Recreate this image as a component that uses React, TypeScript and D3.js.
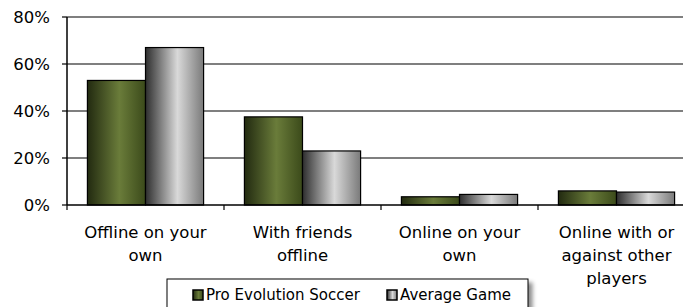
import React from 'react';
import * as d3 from 'd3';

const categories = ['Offline on your own', 'With friends offline', 'Online on your own', 'Online with or against other players'];
const categoryLines = [['Offline on your', 'own'], ['With friends', 'offline'], ['Online on your', 'own'], ['Online with or', 'against other', 'players']];
const proEvo = [53, 37.5, 3.5, 6];
const avgGame = [67, 23, 4.5, 5.5];
const seriesNames = ['Pro Evolution Soccer', 'Average Game'];
const yTicks = [0, 20, 40, 60, 80];

const W = 683;
const H = 307;
const left = 67;
const right = 695;
const top = 17;
const bottom = 205;
const font = 'Tahoma, Verdana, "DejaVu Sans", sans-serif';

const App: React.FC = () => {
  const x = d3.scaleBand<string>().domain(categories).range([left, right]);
  const y = d3.scaleLinear().domain([0, 80]).range([bottom, top]);
  const bw = x.bandwidth() * 0.37;

  return (
    <svg width={W} height={H} style={{ position: 'absolute', left: 0, top: 0 }}>
      <defs>
        <linearGradient id="gGreen" x1="0" x2="1" y1="0" y2="0">
          <stop offset="0" stopColor="#222a10" />
          <stop offset="0.55" stopColor="#6a7c3a" />
          <stop offset="1" stopColor="#3b4a1a" />
        </linearGradient>
        <linearGradient id="gGray" x1="0" x2="1" y1="0" y2="0">
          <stop offset="0" stopColor="#2e2e2e" />
          <stop offset="0.55" stopColor="#d9d9d9" />
          <stop offset="1" stopColor="#7a7a7a" />
        </linearGradient>
        <filter id="shadow" x="-5%" y="-20%" width="120%" height="160%">
          <feDropShadow dx="4" dy="4" stdDeviation="2" floodColor="#000" floodOpacity="0.45" />
        </filter>
      </defs>
      <rect width={W} height={H} fill="#fff" />

      {/* gridlines */}
      {yTicks.filter(t => t > 0).map(t => (
        <line key={t} x1={left} x2={W} y1={y(t)} y2={y(t)} stroke="#7f7f7f" strokeWidth={2} />
      ))}

      {/* bars */}
      {categories.map((c, i) => {
        const cx = (x(c) || 0) + x.bandwidth() / 2;
        return (
          <g key={c}>
            <rect x={cx - bw} y={y(proEvo[i])} width={bw} height={bottom - y(proEvo[i])}
              fill="url(#gGreen)" stroke="#000" strokeWidth={1.2} />
            <rect x={cx} y={y(avgGame[i])} width={bw} height={bottom - y(avgGame[i])}
              fill="url(#gGray)" stroke="#000" strokeWidth={1.2} />
          </g>
        );
      })}

      {/* axes */}
      <line x1={left} x2={left} y1={top} y2={bottom} stroke="#000" strokeWidth={1.5} />
      <line x1={left} x2={W} y1={bottom} y2={bottom} stroke="#000" strokeWidth={1.5} />
      {yTicks.map(t => (
        <g key={t}>
          <line x1={left - 5} x2={left} y1={y(t)} y2={y(t)} stroke="#000" strokeWidth={1.2} />
          <text x={50} y={y(t)} dy="0.36em" textAnchor="end" fontFamily={font} fontSize={16.5} fill="#000">
            {t}%
          </text>
        </g>
      ))}
      {categories.map(c => (
        <line key={c} x1={x(c) || 0} x2={x(c) || 0} y1={bottom} y2={bottom + 5} stroke="#000" strokeWidth={1.2} />
      ))}
      {categories.map((c, i) => {
        const cx = (x(c) || 0) + x.bandwidth() / 2;
        return (
          <text key={c} textAnchor="middle" fontFamily={font} fontSize={16.5} fill="#000">
            {categoryLines[i].map((ln, j) => (
              <tspan key={j} x={cx} y={238 + j * 23}>{ln}</tspan>
            ))}
          </text>
        );
      })}

      {/* legend */}
      <rect x={167} y={279} width={361} height={40} fill="#fff" stroke="#000" strokeWidth={1} filter="url(#shadow)" />
      {seriesNames.map((s, i) => {
        const lx = i === 0 ? 193 : 387;
        return (
          <g key={s}>
            <rect x={lx} y={290} width={10} height={10} fill={i === 0 ? 'url(#gGreen)' : 'url(#gGray)'} stroke="#000" strokeWidth={1.5} />
            <text x={lx + 13} y={295} dy="0.36em" fontFamily={font} fontSize={15} fill="#000">{s}</text>
          </g>
        );
      })}
    </svg>
  );
};

export default App;
